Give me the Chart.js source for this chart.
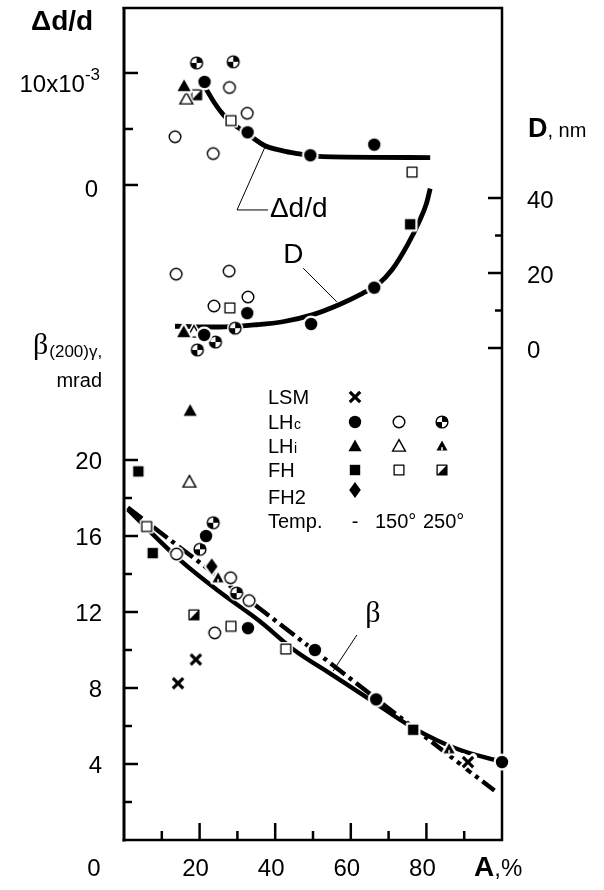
<!DOCTYPE html>
<html>
<head>
<meta charset="utf-8">
<title>Δd/d, D and β(200)γ versus A</title>
<script src="https://cdn.jsdelivr.net/npm/chart.js@4.4.1/dist/chart.umd.min.js"></script>
<style>
html,body{margin:0;padding:0;background:#fff;}
canvas{display:block;}
</style>
</head>
<body>
<canvas id="c" width="604" height="890"></canvas>
<script>
// ---------------- axis ticks ----------------
const xMajorTicks = [20, 40, 60, 80];
const xTickLabels = ['20', '40', '60', '80'];
const xMinorTicks = [10, 30, 50, 70, 90];
const betaMajorTicks = [4, 8, 12, 16, 20];
const betaTickLabels = ['4', '8', '12', '16', '20'];
const betaMinorTicks = [2, 6, 10, 14, 18];
const dMajorTicks = [0, 20, 40];
const dTickLabels = ['0', '20', '40'];
const dMinorTicks = [10, 30];
const ddMajorTicks = [0, 10];
const ddMinorTicks = [5];

// ---------------- data: [A (%), value] ----------------
// Δd/d  (in units of 10^-3)
const dd_LHc = [[21.3, 9.2], [32.7, 4.7], [49.3, 2.65], [66.2, 3.6]];
const dd_LHc150 = [[13.5, 4.3], [23.6, 2.8], [27.9, 8.7], [32.6, 6.4]];
const dd_LHc250 = [[19.2, 10.9], [28.9, 11.0]];
const dd_LHi = [[15.9, 8.85]];
const dd_LHi150 = [[16.5, 7.7]];
const dd_FH150 = [[28.3, 5.75], [76.2, 1.15]];
const dd_FH250 = [[19.2, 8.05]];
const dd_curve = [[21.5, 8.7], [24, 7.3], [26.2, 6.3], [28.3, 5.6], [32.5, 4.6], [37.3, 3.5], [42, 3.05], [46, 2.8], [50, 2.6], [55, 2.5], [81, 2.45]];

// D (nm)
const d_LHc = [[21.2, 3.5], [32.6, 9.3], [49.5, 6.4], [66.2, 16.1]];
const d_LHc150 = [[13.8, 19.7], [23.8, 11.2], [27.8, 20.5], [32.8, 13.6]];
const d_LHc250 = [[19.4, -0.5], [24.2, 1.6], [29.4, 5.3]];
const d_LHi = [[15.8, 4.3]];
const d_LHi150 = [[18.5, 4.3]];
const d_FH = [[75.7, 33.0]];
const d_FH150 = [[28.0, 10.7]];
const d_curve = [[13.5, 5.8], [25, 5.6], [35, 6.2], [42, 7.0], [50, 8.9], [57, 11.6], [63, 14.5], [67, 16.8], [71, 21.0], [75, 27.5], [78, 33.5], [80, 38.5], [81, 42.5]];

// β(200)γ (mrad)
const b_LSM = [[14.3, 8.25], [19.0, 9.5], [91.0, 4.1]];
const b_LHc = [[21.7, 16.0], [32.8, 11.15], [50.5, 10.0], [66.7, 7.4], [100, 4.1]];
const b_LHc150 = [[13.9, 15.05], [24.0, 10.9], [28.2, 13.8], [33.1, 12.6]];
const b_LHc250 = [[20.1, 15.3], [23.6, 16.7], [29.8, 13.0]];
const b_LHi = [[17.5, 22.6]];
const b_LHi150 = [[17.3, 18.85]];
const b_LHi250 = [[24.9, 13.8], [86.0, 4.8]];
const b_FH = [[3.8, 19.4], [7.6, 15.1], [76.5, 5.8]];
const b_FH150 = [[6.0, 16.5], [28.3, 11.25], [42.8, 10.05]];
const b_FH250 = [[18.5, 11.85]];
const b_FH2 = [[23.2, 14.4]];
const b_curveSolid = [[1, 17.4], [15, 14.7], [25, 13.1], [36, 11.5], [45, 10.0], [55, 8.7], [65, 7.4], [76.5, 5.9], [88, 4.8], [100, 4.1]];
const b_curveDashDot = [[1, 17.5], [41, 11.4], [98, 2.6]];

// ---------------- annotations (data coordinates) ----------------
const annDd = { text: 'Δd/d', at: [38.6, -2.83], leader: [[37.3, 3.39], [29.9, -2.23], [38.1, -2.23]] };
const annD = { text: 'D', at: [42.1, 22.7], leader: [[47.4, 21.3], [56.3, 12.3]] };
const annB = { text: 'β', at: [63.8, 11.47], leader: [[61.6, 10.79], [55.3, 8.89]] };

// ---------------- fonts ----------------
const SANS = '"Liberation Sans", Arial, Helvetica, sans-serif';
const SERIF = '"Liberation Serif", "DejaVu Serif", "Times New Roman", serif';
const F = (px) => px + 'px ' + SANS;
const FB = (px) => 'bold ' + px + 'px ' + SANS;

// ---------------- marker images ----------------
const HALO = 2.2;
function mk(draw) {
  const s = 26, c = document.createElement('canvas');
  c.width = s; c.height = s;
  const g = c.getContext('2d');
  g.translate(s / 2, s / 2);
  draw(g);
  return c;
}
const pCircle = (g, r) => { g.beginPath(); g.arc(0, 0, r, 0, Math.PI * 2); g.closePath(); };
const pTri = (g, s) => { g.beginPath(); g.moveTo(0, -s); g.lineTo(s, s * 0.8); g.lineTo(-s, s * 0.8); g.closePath(); };
const pSq = (g, h) => { g.beginPath(); g.rect(-h, -h, 2 * h, 2 * h); };
const pDia = (g, w, h) => { g.beginPath(); g.moveTo(0, -h); g.lineTo(w, 0); g.lineTo(0, h); g.lineTo(-w, 0); g.closePath(); };
function halo(g, path) { path(); g.fillStyle = '#fff'; g.fill(); g.strokeStyle = '#fff'; g.lineWidth = 2 * HALO; g.lineJoin = 'round'; g.stroke(); }

const M = {
  fCircle: mk(g => { halo(g, () => pCircle(g, 6.2)); pCircle(g, 6.2); g.fillStyle = '#000'; g.fill(); }),
  oCircle: mk(g => { halo(g, () => pCircle(g, 5.8)); pCircle(g, 5.8); g.fillStyle = '#fff'; g.fill(); g.strokeStyle = '#000'; g.lineWidth = 1.4; g.stroke(); }),
  hCircle: mk(g => {
    halo(g, () => pCircle(g, 5.9));
    pCircle(g, 5.9); g.fillStyle = '#fff'; g.fill();
    g.fillStyle = '#000';
    g.beginPath(); g.moveTo(0, 0); g.arc(0, 0, 5.9, -Math.PI / 2, 0); g.closePath(); g.fill();
    g.beginPath(); g.moveTo(0, 0); g.arc(0, 0, 5.9, Math.PI / 2, Math.PI); g.closePath(); g.fill();
    pCircle(g, 5.9); g.strokeStyle = '#000'; g.lineWidth = 1.4; g.stroke();
  }),
  fTri: mk(g => { halo(g, () => pTri(g, 6.6)); pTri(g, 6.6); g.fillStyle = '#000'; g.fill(); }),
  oTri: mk(g => { halo(g, () => pTri(g, 6.4)); pTri(g, 6.4); g.fillStyle = '#fff'; g.fill(); g.strokeStyle = '#000'; g.lineWidth = 1.4; g.lineJoin = 'miter'; g.stroke(); }),
  sTri: mk(g => { halo(g, () => pTri(g, 5.5)); pTri(g, 5.5); g.fillStyle = '#000'; g.fill(); g.fillStyle = '#fff'; g.fillRect(-0.8, 1.2, 1.6, 3.2); }),
  fSq: mk(g => { halo(g, () => pSq(g, 5.2)); pSq(g, 5.2); g.fillStyle = '#000'; g.fill(); }),
  oSq: mk(g => { halo(g, () => pSq(g, 4.9)); pSq(g, 4.9); g.fillStyle = '#fff'; g.fill(); g.strokeStyle = '#000'; g.lineWidth = 1.3; g.stroke(); }),
  hSq: mk(g => {
    halo(g, () => pSq(g, 4.9));
    pSq(g, 4.9); g.fillStyle = '#fff'; g.fill();
    g.beginPath(); g.moveTo(4.9, -4.9); g.lineTo(4.9, 4.9); g.lineTo(-4.9, 4.9); g.closePath(); g.fillStyle = '#000'; g.fill();
    pSq(g, 4.9); g.strokeStyle = '#000'; g.lineWidth = 1.3; g.stroke();
  }),
  dia: mk(g => { halo(g, () => pDia(g, 5.8, 8)); pDia(g, 5.8, 8); g.fillStyle = '#000'; g.fill(); }),
  cross: mk(g => {
    const d = 5.2;
    const seg = () => { g.beginPath(); g.moveTo(-d, -d); g.lineTo(d, d); g.moveTo(d, -d); g.lineTo(-d, d); };
    seg(); g.strokeStyle = '#fff'; g.lineWidth = 3 + 2 * HALO; g.lineCap = 'round'; g.stroke();
    seg(); g.strokeStyle = '#000'; g.lineWidth = 3.2; g.lineCap = 'butt'; g.stroke();
  })
};

// ---------------- datasets ----------------
const pts = arr => arr.map(([x, y]) => ({ x, y }));
function markerDS(label, data, axis, style) {
  return { label, data: pts(data), yAxisID: axis, pointStyle: M[style], pointRadius: 6, pointHoverRadius: 6,
           showLine: false, order: 0, clip: false };
}
function lineDS(label, data, axis, width, dash) {
  return { label, data: pts(data), yAxisID: axis, showLine: true, pointRadius: 0, pointHoverRadius: 0,
           borderColor: '#000', borderWidth: width, borderDash: dash || [], borderCapStyle: 'butt',
           cubicInterpolationMode: 'monotone', fill: false, order: 1, clip: false };
}

const datasets = [
  lineDS('Δd/d fit', dd_curve, 'yDd', 4.8),
  lineDS('D fit', d_curve, 'yD', 4.8),
  lineDS('β fit', b_curveSolid, 'yB', 4.4),
  lineDS('β fit 2', b_curveDashDot, 'yB', 4.4, [18, 5, 4, 5]),

  markerDS('LHc Δd/d', dd_LHc, 'yDd', 'fCircle'),
  markerDS('LHc 150° Δd/d', dd_LHc150, 'yDd', 'oCircle'),
  markerDS('LHc 250° Δd/d', dd_LHc250, 'yDd', 'hCircle'),
  markerDS('LHi Δd/d', dd_LHi, 'yDd', 'fTri'),
  markerDS('LHi 150° Δd/d', dd_LHi150, 'yDd', 'oTri'),
  markerDS('FH 150° Δd/d', dd_FH150, 'yDd', 'oSq'),
  markerDS('FH 250° Δd/d', dd_FH250, 'yDd', 'hSq'),

  markerDS('LHc D', d_LHc, 'yD', 'fCircle'),
  markerDS('LHc 150° D', d_LHc150, 'yD', 'oCircle'),
  markerDS('LHc 250° D', d_LHc250, 'yD', 'hCircle'),
  markerDS('LHi D', d_LHi, 'yD', 'fTri'),
  markerDS('LHi 150° D', d_LHi150, 'yD', 'oTri'),
  markerDS('FH D', d_FH, 'yD', 'fSq'),
  markerDS('FH 150° D', d_FH150, 'yD', 'oSq'),

  markerDS('LSM β', b_LSM, 'yB', 'cross'),
  markerDS('LHc β', b_LHc, 'yB', 'fCircle'),
  markerDS('LHc 150° β', b_LHc150, 'yB', 'oCircle'),
  markerDS('LHc 250° β', b_LHc250, 'yB', 'hCircle'),
  markerDS('LHi β', b_LHi, 'yB', 'fTri'),
  markerDS('LHi 150° β', b_LHi150, 'yB', 'oTri'),
  markerDS('LHi 250° β', b_LHi250, 'yB', 'sTri'),
  markerDS('FH β', b_FH, 'yB', 'fSq'),
  markerDS('FH 150° β', b_FH150, 'yB', 'oSq'),
  markerDS('FH 250° β', b_FH250, 'yB', 'hSq'),
  markerDS('FH2 β', b_FH2, 'yB', 'dia')
];

// ---------------- drawing helpers ----------------
function txt(g, str, x, y, font, align) {
  g.font = font; g.textAlign = align || 'left'; g.textBaseline = 'alphabetic';
  g.fillText(str, x, y);
  return g.measureText(str).width;
}
function line(g, pts) {
  g.beginPath(); g.moveTo(pts[0][0], pts[0][1]);
  for (let i = 1; i < pts.length; i++) g.lineTo(pts[i][0], pts[i][1]);
  g.stroke();
}

const overlay = {
  id: 'overlay',
  beforeDatasetsDraw(chart) {
    const g = chart.ctx, a = chart.chartArea, s = chart.scales;
    g.save();
    g.strokeStyle = '#000'; g.lineCap = 'butt';
    g.lineWidth = 3;
    line(g, [[a.left, a.top - 1], [a.left, a.bottom + 1.5]]);
    g.lineWidth = 2.5;
    line(g, [[a.left - 1.5, a.top], [a.right, a.top], [a.right, a.bottom], [a.left - 1.5, a.bottom]]);
    g.lineWidth = 2.5;
    xMajorTicks.forEach(v => { const x = s.x.getPixelForValue(v); line(g, [[x, a.bottom], [x, a.bottom - 17]]); });
    xMinorTicks.forEach(v => { const x = s.x.getPixelForValue(v); line(g, [[x, a.bottom], [x, a.bottom - 9]]); });
    betaMajorTicks.forEach(v => { const y = s.yB.getPixelForValue(v); line(g, [[a.left, y], [a.left + 14, y]]); });
    betaMinorTicks.forEach(v => { const y = s.yB.getPixelForValue(v); line(g, [[a.left, y], [a.left + 8, y]]); });
    ddMajorTicks.forEach(v => { const y = s.yDd.getPixelForValue(v); line(g, [[a.left, y], [a.left + 14, y]]); });
    ddMinorTicks.forEach(v => { const y = s.yDd.getPixelForValue(v); line(g, [[a.left, y], [a.left + 9, y]]); });
    dMajorTicks.forEach(v => { const y = s.yD.getPixelForValue(v); line(g, [[a.right, y], [a.right - 14, y]]); });
    dMinorTicks.forEach(v => { const y = s.yD.getPixelForValue(v); line(g, [[a.right, y], [a.right - 7, y]]); });
    g.restore();
  },
  afterDatasetsDraw(chart) {
    const g = chart.ctx, a = chart.chartArea, s = chart.scales;
    g.save();
    g.fillStyle = '#000'; g.strokeStyle = '#000';

    // tick labels
    betaMajorTicks.forEach((v, i) => txt(g, betaTickLabels[i], a.left - 22, s.yB.getPixelForValue(v) + 8.5, F(24), 'right'));
    dMajorTicks.forEach((v, i) => txt(g, dTickLabels[i], a.right + 25, s.yD.getPixelForValue(v) + 10, F(24), 'left'));
    {
      const y0 = s.yDd.getPixelForValue(0);
      txt(g, '0', a.left - 26, y0 + 12, F(24), 'right');
      const y10 = s.yDd.getPixelForValue(10);
      g.font = F(17); const wSup = g.measureText('-3').width;
      const xr = a.left - 24;
      txt(g, '-3', xr, y10 + 7, F(17), 'right');
      txt(g, '10x10', xr - wSup, y10 + 19, F(24), 'right');
    }
    const xLabY = 876;
    xMajorTicks.forEach((v, i) => txt(g, xTickLabels[i], s.x.getPixelForValue(v) - 4, xLabY, F(24), 'center'));
    txt(g, '0', a.left - 30, xLabY, F(24), 'center');

    // axis titles
    txt(g, 'Δd/d', 31, 30, FB(28), 'left');
    { let x = 528; x += txt(g, 'D', x, 137, FB(27), 'left'); txt(g, ', nm', x, 137, F(20), 'left'); }
    { let x = 474; x += txt(g, 'A', x, xLabY, FB(28), 'left'); txt(g, ',%', x, xLabY, F(24), 'left'); }
    { let x = 33; x += txt(g, 'β', x, 354, '30px ' + SERIF, 'left'); txt(g, '(200)γ,', x + 1, 357, F(17), 'left'); }
    txt(g, 'mrad', 102, 387, F(20), 'right');

    // annotations with leader lines
    g.lineWidth = 1;
    const ann = (o, axis, font) => {
      const P = ([x, y]) => [s.x.getPixelForValue(x), s[axis].getPixelForValue(y)];
      line(g, o.leader.map(P));
      const p = P(o.at);
      txt(g, o.text, p[0], p[1], font, 'left');
    };
    ann(annDd, 'yDd', F(28));
    ann(annD, 'yD', F(28));
    ann(annB, 'yB', '30px ' + SERIF);

    // legend
    const cols = [355, 399, 442];
    const rows = [
      { label: 'LSM', sub: '', y: 397, syms: ['cross'] },
      { label: 'LH', sub: 'c', y: 422, syms: ['fCircle', 'oCircle', 'hCircle'] },
      { label: 'LH', sub: 'i', y: 446, syms: ['fTri', 'oTri', 'sTri'] },
      { label: 'FH', sub: '', y: 470, syms: ['fSq', 'oSq', 'hSq'] },
      { label: 'FH2', sub: '', y: 497, symY: 490, syms: ['dia'] }
    ];
    rows.forEach(r => {
      let x = 268;
      x += txt(g, r.label, x, r.y + 7.2, F(20), 'left');
      if (r.sub) txt(g, r.sub, x + 0.5, r.y + 7.2, F(14), 'left');
      r.syms.forEach((k, i) => {
        const im = M[k];
        g.drawImage(im, cols[i] - im.width / 2, (r.symY || r.y) - im.height / 2);
      });
    });
    txt(g, 'Temp.', 268, 528, F(20), 'left');
    txt(g, '-', 355, 528, F(20), 'center');
    txt(g, '150°', 375, 528, F(20), 'left');
    txt(g, '250°', 423, 528, F(20), 'left');
    g.restore();
  }
};

new Chart(document.getElementById('c'), {
  type: 'scatter',
  data: { datasets },
  options: {
    responsive: false,
    animation: false,
    devicePixelRatio: 1,
    events: [],
    layout: { padding: { left: 124, right: 102, top: 8, bottom: 50 } },
    scales: {
      x: { type: 'linear', min: 0, max: 100, display: false },
      yB: { type: 'linear', position: 'left', min: 0, max: 43.79, display: false },
      yD: { type: 'linear', position: 'right', min: -131.2, max: 90.67, display: false },
      yDd: { type: 'linear', position: 'left', min: -58.48, max: 15.80, display: false }
    },
    plugins: { legend: { display: false }, tooltip: { enabled: false } }
  },
  plugins: [overlay]
});
</script>
</body>
</html>
